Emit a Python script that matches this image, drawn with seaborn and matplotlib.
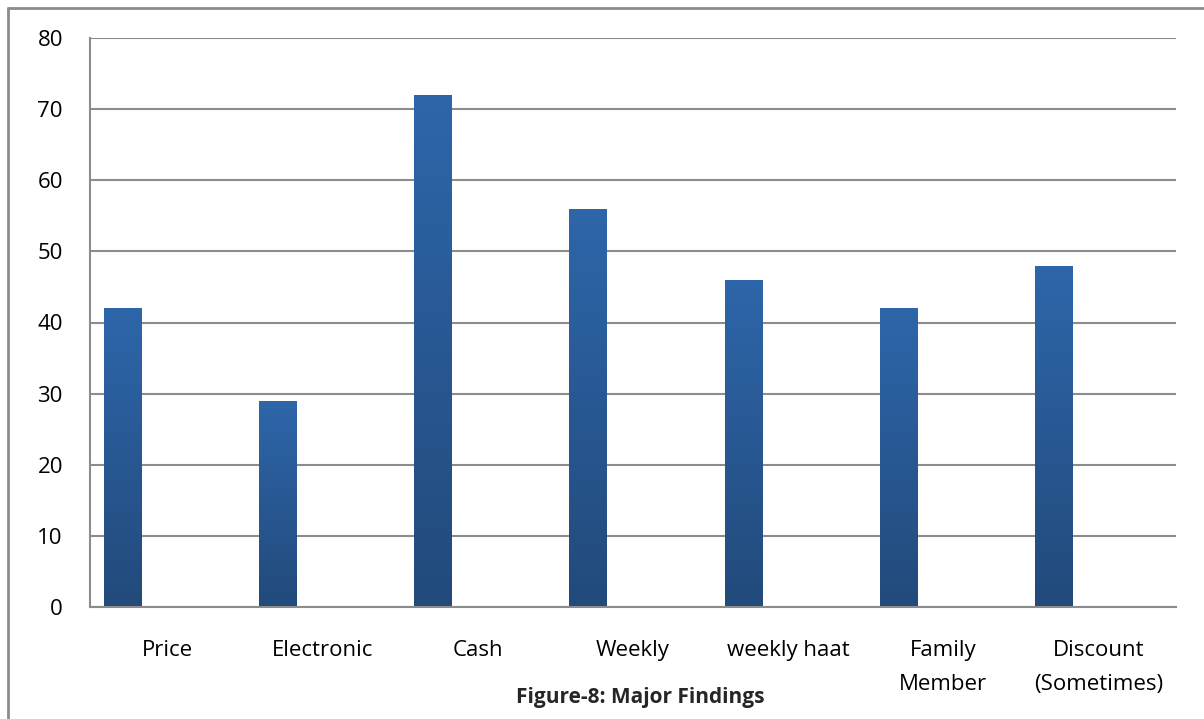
import matplotlib
matplotlib.use("Agg")
import matplotlib.pyplot as plt
import numpy as np
import pandas as pd
import seaborn as sns
from matplotlib.lines import Line2D

categories = ["Price", "Electronic", "Cash", "Weekly", "weekly haat",
              "Family\nMember", "Discount\n(Sometimes)"]
values = [42, 29, 72, 56, 46, 42, 48]
y_ticks = [0, 10, 20, 30, 40, 50, 60, 70, 80]
title = "Figure-8: Major Findings"

sns.set_style("white")
plt.rcParams["font.family"] = ["Open Sans", "DejaVu Sans"]

df = pd.DataFrame({"category": categories, "value": values})

fig = plt.figure(figsize=(12.04, 7.19), dpi=100)
ax = fig.add_axes([90 / 1204, 1 - 607 / 719, (1176 - 90) / 1204, (607 - 38) / 719])

sns.barplot(data=df, x="category", y="value", ax=ax, width=0.24,
            color="#2b5c98", saturation=1, edgecolor="none", zorder=3)

# Excel-style: bars sit in the left part of each category slot
grad = np.linspace(0, 1, 256).reshape(-1, 1)
cmap = matplotlib.colors.LinearSegmentedColormap.from_list(
    "bar", ["#224a7b", "#2e66aa"])
for p in ax.patches:
    p.set_x(p.get_x() - 0.29)
    x0, w, h = p.get_x(), p.get_width(), p.get_height()
    im = ax.imshow(grad, extent=[x0, x0 + w, 0, h], origin="lower",
                   cmap=cmap, aspect="auto", zorder=4)
    im.set_clip_path(p)

ax.set_xlim(-0.5, len(categories) - 0.5)
ax.set_ylim(0, 80)
ax.set_yticks(y_ticks)
ax.tick_params(axis="both", length=0, labelsize=16, colors="black")
ax.tick_params(axis="x", pad=24)
ax.tick_params(axis="y", pad=19.5)
for lbl in ax.get_xticklabels():
    lbl.set_linespacing(1.8)
ax.yaxis.grid(True, color="#8c8c8c", linewidth=1.5, zorder=1)
ax.set_axisbelow(True)
ax.set_xlabel("")
ax.set_ylabel("")
for s in ["top", "right"]:
    ax.spines[s].set_visible(False)
for s in ["left", "bottom"]:
    ax.spines[s].set_color("#8c8c8c")
    ax.spines[s].set_linewidth(1.5)
    ax.spines[s].set_zorder(5)

fig.text(640 / 1204, 1 - 697 / 719, title, ha="center", va="center",
         fontsize=15, fontweight="bold")

# outer chart border (only top and left visible in crop)
fig.add_artist(Line2D([8 / 1204, 1], [1 - 8 / 719, 1 - 8 / 719],
                      color="#8c8c8c", linewidth=2, transform=fig.transFigure))
fig.add_artist(Line2D([8 / 1204, 8 / 1204], [0, 1 - 8 / 719],
                      color="#8c8c8c", linewidth=2, transform=fig.transFigure))

fig.savefig("out.png", dpi=100)
